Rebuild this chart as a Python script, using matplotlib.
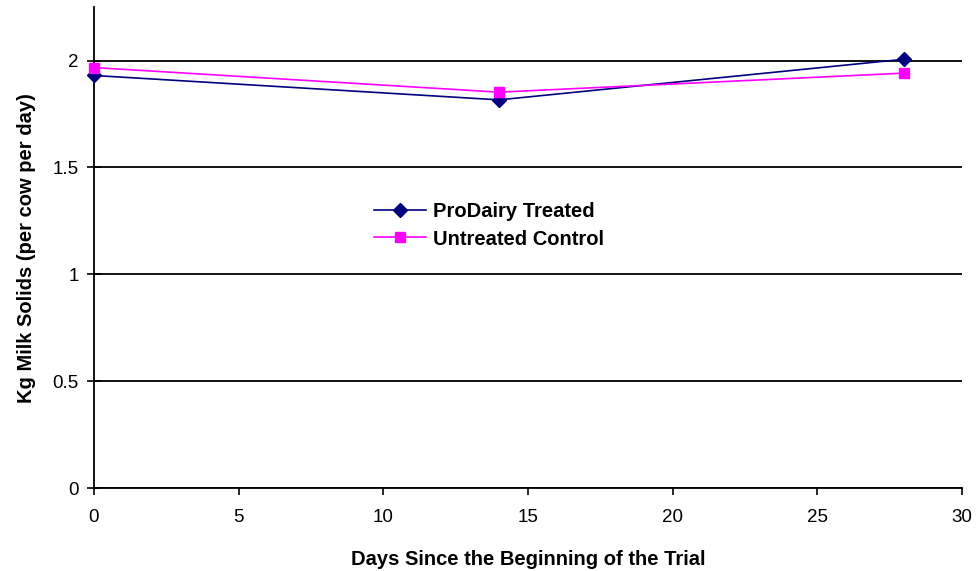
import matplotlib
matplotlib.use("Agg")
import matplotlib.pyplot as plt
from matplotlib.ticker import MultipleLocator, FuncFormatter

plt.rcParams['font.family'] = ['Liberation Sans', 'DejaVu Sans']

days = [0, 14, 28]
treated = [1.93, 1.816, 2.006]
control = [1.967, 1.852, 1.941]

fig = plt.figure(figsize=(9.76, 5.71), dpi=100)
ax = fig.add_axes([0.0963, 0.1448, 0.8894, 0.8429])

ax.set_xlim(0, 30)
ax.set_ylim(0, 2.25)
ax.yaxis.set_major_locator(MultipleLocator(0.5))
ax.xaxis.set_major_locator(MultipleLocator(5))
ax.yaxis.set_major_formatter(FuncFormatter(lambda v, p: f'{v:g}'))
ax.grid(axis='y', color='black', linewidth=1.3)
ax.set_axisbelow(True)

ax.plot(days, treated, color='#000080', marker='D', markersize=7.5, linewidth=1.2,
        label='ProDairy Treated', clip_on=False, zorder=3)
ax.plot(days, control, color='#FF00FF', marker='s', markersize=7.5, linewidth=1.2,
        label='Untreated Control', clip_on=False, zorder=3)

for s in ['top', 'right']:
    ax.spines[s].set_visible(False)
for s in ['left', 'bottom']:
    ax.spines[s].set_linewidth(1.3)

ax.tick_params(axis='both', labelsize=13.5, width=1.2)
ax.tick_params(axis='x', direction='out', length=5, pad=10)
ax.tick_params(axis='y', direction='inout', length=10, pad=6)
ax.set_xlabel('Days Since the Beginning of the Trial', fontsize=14.5, fontweight='bold', labelpad=17)
ax.set_ylabel('Kg Milk Solids (per cow per day)', fontsize=14.5, fontweight='bold', labelpad=12)

leg = fig.legend(loc='center left', bbox_to_anchor=(364/976, 1 - 225.5/571), frameon=False,
                 prop={'size': 14.5, 'weight': 'bold'}, handlelength=2.6,
                 labelspacing=0.4, handletextpad=0.35, borderpad=0)

fig.savefig('out.png', dpi=100)
